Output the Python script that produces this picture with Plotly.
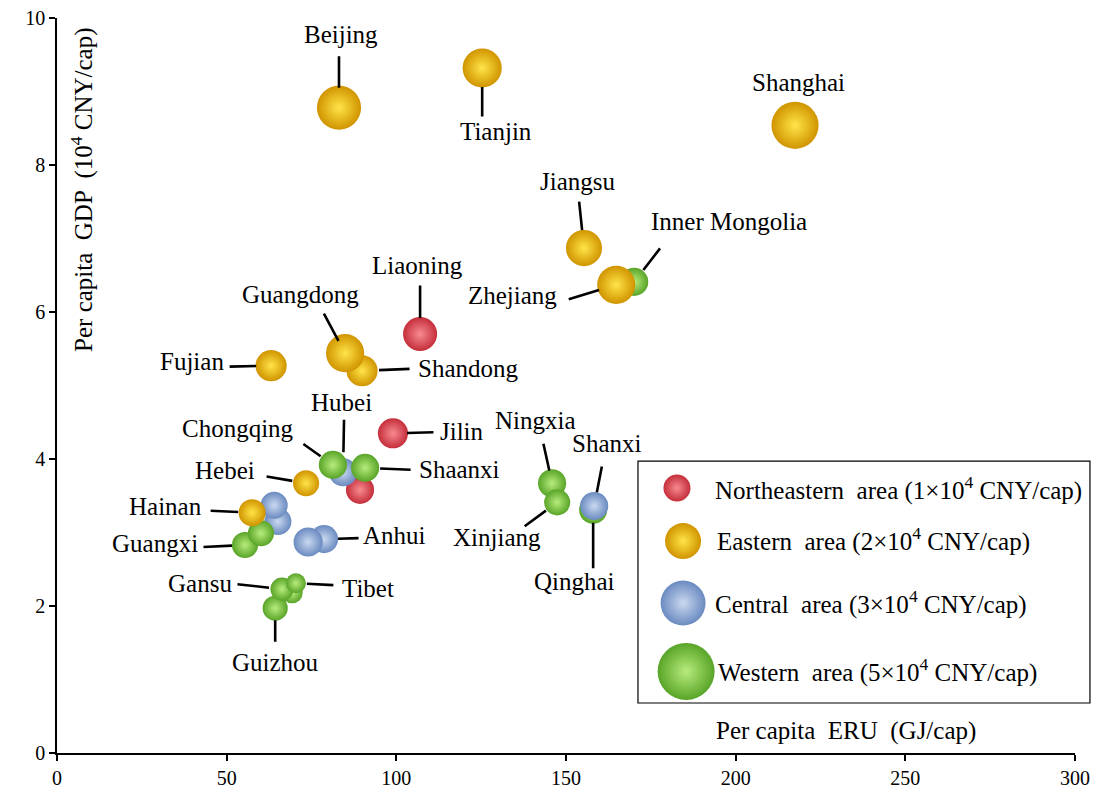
import plotly.graph_objects as go

# ---------------- data ----------------
provinces = ["Liaoning", "Jilin", "Heilongjiang",
             "Beijing", "Tianjin", "Hebei", "Shanghai", "Jiangsu", "Zhejiang",
             "Fujian", "Shandong", "Guangdong", "Hainan",
             "Shanxi", "Anhui", "Henan", "Hunan", "Jiangxi", "Hubei",
             "Inner Mongolia", "Guangxi", "Sichuan", "Chongqing", "Guizhou",
             "Yunnan", "Gansu", "Tibet", "Shaanxi", "Qinghai", "Ningxia", "Xinjiang"]
regions = ["NE", "NE", "NE",
           "E", "E", "E", "E", "E", "E", "E", "E", "E", "E",
           "C", "C", "C", "C", "C", "C",
           "W", "W", "W", "W", "W", "W", "W", "W", "W", "W", "W", "W"]
# per capita ERU (GJ/cap)
eru = [107.0, 99.0, 89.3,
       83.1, 125.3, 73.4, 217.5, 155.3, 164.8, 63.1, 89.9, 84.9, 57.5,
       158.3, 78.7, 74.0, 65.1, 64.0, 84.3,
       170.1, 55.4, 60.1, 81.3, 64.3, 69.3, 66.3, 70.4, 90.8, 158.0, 145.9, 147.4]
# per capita GDP (10^4 CNY/cap)
gdp = [5.70, 4.35, 3.58,
       8.78, 9.32, 3.67, 8.54, 6.87, 6.37, 5.27, 5.20, 5.44, 3.27,
       3.36, 2.91, 2.87, 3.15, 3.37, 3.82,
       6.41, 2.83, 2.99, 3.92, 1.97, 2.18, 2.23, 2.31, 3.88, 3.31, 3.67, 3.41]
# bubble size variable (10^4 CNY/cap scale)
bubble_val = [5.23, 4.08, 3.56,
              8.78, 6.90, 3.07, 10.0, 5.88, 6.55, 4.36, 4.36, 6.55, 3.29,
              3.56, 3.56, 3.82, 3.29, 3.29, 3.56,
              3.56, 3.07, 3.07, 3.56, 2.83, 2.00, 2.40, 1.81, 3.56, 3.56, 3.56, 3.07]

legend_names = ["Northeastern  area (1\u00d710<sup>4</sup> CNY/cap)",
                "Eastern  area (2\u00d710<sup>4</sup> CNY/cap)",
                "Central  area (3\u00d710<sup>4</sup> CNY/cap)",
                "Western  area (5\u00d710<sup>4</sup> CNY/cap)"]
legend_regions = ["NE", "E", "C", "W"]

x_title = "Per capita  ERU  (GJ/cap)"
y_title = "Per capita  GDP  (10<sup>4</sup> CNY/cap)"

# ---------------- styles / layout ----------------
FONT = "Liberation Serif, Times New Roman, serif"
LABEL_SIZE = 25
edge_col = {"NE": "#C42E3A", "E": "#D09400", "C": "#6A8AC0", "W": "#58A428"}
core_col = {"NE": "#F88A90", "E": "#FFE448", "C": "#CAD9F0", "W": "#B8EC7C"}
draw_rank = {"NE": 0, "C": 1, "W": 2, "E": 3}
draw_override = {"Shanxi": 4}

# label text offset (px), line tail offset (px), standoff (px)
labels = {
    "Beijing": (2, -73, 0, -53, 20),
    "Tianjin": (14, 64, 0, 50, 19),
    "Shanghai": (3, -43, None, None, None),
    "Jiangsu": (-6, -67, -5, -48, 18),
    "Inner Mongolia": (95, -60, 27, -35, 15),
    "Zhejiang": (-104, 11, -49, 15, 18),
    "Liaoning": (-3, -69, 0, -50, 16),
    "Guangdong": (-45, -59, -22, -41, 14),
    "Shandong": (106, -2, 49, -2, 17),
    "Fujian": (-79, -4, -43, 1, 15),
    "Jilin": (69, -2, 42, -1, 14),
    "Hubei": (-2, -70, 1, -54, 20),
    "Chongqing": (-95, -36, -31, -22, 15),
    "Shaanxi": (94, 2, 47, 2, 15),
    "Hebei": (-81, -13, -41, -7, 14),
    "Hainan": (-87, -6, -43, -2, 14),
    "Guangxi": (-90, -2, -43, 2, 13),
    "Anhui": (70, -4, 36, -1, 14),
    "Gansu": (-82, -6, -46, -5, 13),
    "Tibet": (72, 5, 39, 2, 11),
    "Guizhou": (0, 54, 0, 35, 12),
    "Ningxia": (-17, -63, -9, -41, 13),
    "Xinjiang": (-60, 35, -34, 25, 14),
    "Shanxi": (13, -63, 8, -41, 14),
    "Qinghai": (-19, 72, 0, 60, 13),
}

legend_pos = {"NE": (0.609, 0.3605), "E": (0.615, 0.2884), "C": (0.615, 0.2040), "W": (0.618, 0.1110)}
legend_size = {"NE": 27, "E": 36, "C": 45, "W": 57}
legend_text_pos = {"NE": (0.6444, 0.3605), "E": (0.6464, 0.2898), "C": (0.6444, 0.2054), "W": (0.6473, 0.1116)}

# ---------------- figure ----------------
order = sorted(range(len(provinces)),
               key=lambda i: draw_override.get(provinces[i], draw_rank[regions[i]]))

fig = go.Figure()
fig.add_trace(go.Scatter(
    x=[eru[i] for i in order], y=[gdp[i] for i in order],
    text=[provinces[i] for i in order],
    mode="markers", showlegend=False, hoverinfo="text+x+y",
    marker=dict(size=[bubble_val[i] for i in order], sizemode="area", sizeref=0.009,
                color=[edge_col[regions[i]] for i in order],
                gradient=dict(type="radial", color=[core_col[regions[i]] for i in order]),
                line=dict(width=0), opacity=1),
))

# legend swatches on an overlay axis (0..1 like paper)
for r in legend_regions:
    px, py = legend_pos[r]
    fig.add_trace(go.Scatter(
        x=[px], y=[py], xaxis="x2", yaxis="y2", mode="markers", showlegend=False,
        hoverinfo="skip",
        marker=dict(size=legend_size[r], color=edge_col[r],
                    gradient=dict(type="radial", color=core_col[r]), line=dict(width=0)),
    ))

annotations = []
for i, name in enumerate(provinces):
    if name not in labels:
        continue
    tx, ty, lx, ly, so = labels[name]
    annotations.append(dict(x=eru[i], y=gdp[i], xref="x", yref="y", text=name,
                            showarrow=False, xshift=tx, yshift=-ty,
                            font=dict(family=FONT, size=LABEL_SIZE, color="black")))
    if lx is not None:
        annotations.append(dict(x=eru[i], y=gdp[i], xref="x", yref="y", text="",
                                showarrow=True, arrowhead=0, arrowwidth=2.6,
                                arrowcolor="black", ax=lx, ay=ly, standoff=so))

for r, name in zip(legend_regions, legend_names):
    lx, ly = legend_text_pos[r]
    annotations.append(dict(x=lx, y=ly, xref="paper", yref="paper", text=name,
                            showarrow=False, xanchor="left", yanchor="middle",
                            font=dict(family=FONT, size=25, color="black")))

annotations.append(dict(x=0.775, y=0.030, xref="paper", yref="paper", text=x_title,
                        showarrow=False, xanchor="center", yanchor="middle",
                        font=dict(family=FONT, size=25, color="black")))
annotations.append(dict(x=0.0255, y=0.766, xref="paper", yref="paper", text=y_title,
                        showarrow=False, textangle=-90, xanchor="center", yanchor="middle",
                        font=dict(family=FONT, size=25, color="black")))

axis_style = dict(showgrid=False, zeroline=False, automargin=False,
                  ticklabeloverflow="allow",
                  showline=True, linecolor="black", linewidth=1.5,
                  ticks="outside", ticklen=6, tickcolor="black", tickwidth=1.5,
                  tickfont=dict(family=FONT, size=20, color="black"))

fig.update_layout(
    width=1084, height=780,
    margin=dict(l=49, r=17, t=10, b=35),
    paper_bgcolor="white", plot_bgcolor="white",
    font=dict(family=FONT, size=20, color="black"),
    xaxis=dict(range=[0, 300], dtick=50, **axis_style),
    yaxis=dict(range=[0, 10], dtick=2, **axis_style),
    xaxis2=dict(range=[0, 1], overlaying="x", visible=False, automargin=False),
    yaxis2=dict(range=[0, 1], overlaying="y", visible=False, automargin=False),
    shapes=[dict(type="rect", xref="paper", yref="paper",
                 x0=0.5707, x1=1.0147, y0=0.068, y1=0.397,
                 line=dict(color="black", width=1.2), fillcolor="white", layer="below")],
    annotations=annotations,
)

fig.write_html("out.html")
